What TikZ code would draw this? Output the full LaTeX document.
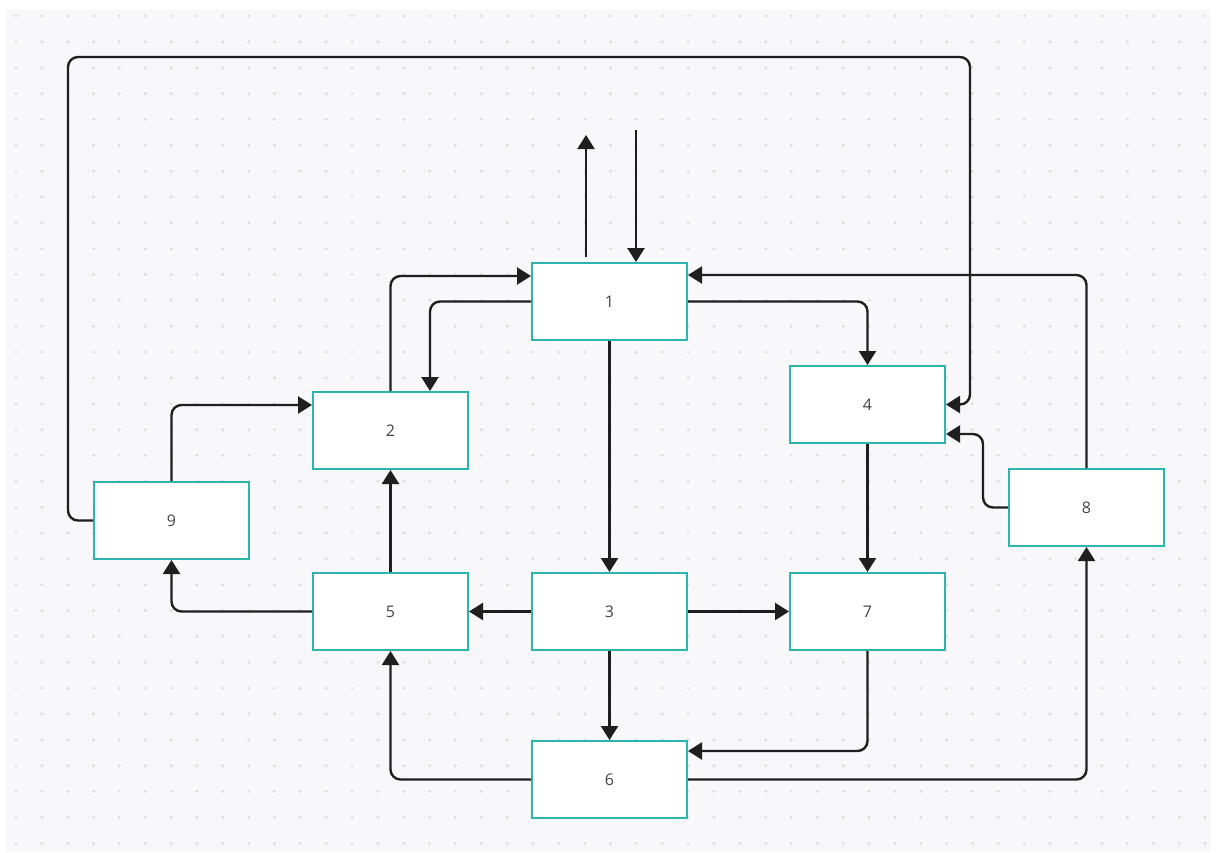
\documentclass[tikz,border=0pt]{standalone}
\usepackage{fontspec}
\setmainfont{Open Sans}
\usetikzlibrary{arrows.meta}
\definecolor{bgray}{HTML}{F8F8FA}
\definecolor{dotc}{HTML}{DDDDE2}
\definecolor{teal}{HTML}{2DB4AE}
\definecolor{linec}{HTML}{1F1F1F}
\definecolor{textc}{HTML}{444444}
\tikzset{
  box/.style={draw=teal, line width=2pt, fill=white, minimum width=155pt, minimum height=77pt, inner sep=0pt, font=\fontsize{16}{19}\selectfont, text=textc},
  conn/.style={draw=linec, line width=2.4pt, rounded corners=10pt},
  arr/.style={conn, -{Triangle[length=14pt,width=17pt]}},
}
\begin{document}
\begin{tikzpicture}[x=1pt,y=-1pt]
\useasboundingbox (0,0) rectangle (1219,852);
\fill[white] (0,0) rectangle (1219,852);
\fill[bgray] (6,10) rectangle (1211,852);
\foreach \i in {0,...,46}{
  \foreach \j in {0,...,32}{
    \fill[dotc] ({16+25.85*\i},{16+25.85*\j}) circle (1.6pt);
  }
}
% nodes
\node[box] (n1) at (609.5,301.5) {1};
\node[box] (n2) at (390.5,430.5) {2};
\node[box] (n4) at (867.5,404.5) {4};
\node[box] (n9) at (171.5,520.5) {9};
\node[box] (n8) at (1086.5,507.5) {8};
\node[box] (n5) at (390.5,611.5) {5};
\node[box] (n3) at (609.5,611.5) {3};
\node[box] (n7) at (867.5,611.5) {7};
\node[box] (n6) at (609.5,779.5) {6};
% free ends
\coordinate (outend) at (586,135);
\coordinate (instart) at (636,130);
% connectors
\draw[arr] ([xshift=-23.5pt,yshift=5pt]n1.north) -- (outend);
\draw[arr] (instart) -- (instart |- n1.north);
\draw[arr] (n2.north) |- (n1.west |- 0,276);
\draw[arr] (n1.west) -| (n2.north -| 430,0);
\draw[arr] (n1.east) -| (n4.north);
\draw[arr] (n1.south) -- (n3.north);
\draw[arr] (n8.north) |- (n1.east |- 0,275);
\draw[arr] (n9.west) -| (68,57) -| (n4.east -| 970,0) -- (n4.east);
\draw[arr] (n9.north) |- (n2.west |- 0,405);
\draw[arr] (n5.north) -- (n2.south);
\draw[arr] (n5.west) -| (n9.south);
\draw[arr] (n3.west) -- (n5.east);
\draw[arr] (n3.east) -- (n7.west);
\draw[arr] (n3.south) -- (n6.north);
\draw[arr] (n4.south) -- (n7.north);
\draw[arr] (n7.south) |- (n6.east |- 0,751);
\draw[arr] (n6.west) -| (n5.south);
\draw[arr] (n6.east) -| (n8.south);
\draw[arr] (n8.west) -| (983,434) -- (n4.east |- 0,434);
\end{tikzpicture}
\end{document}
